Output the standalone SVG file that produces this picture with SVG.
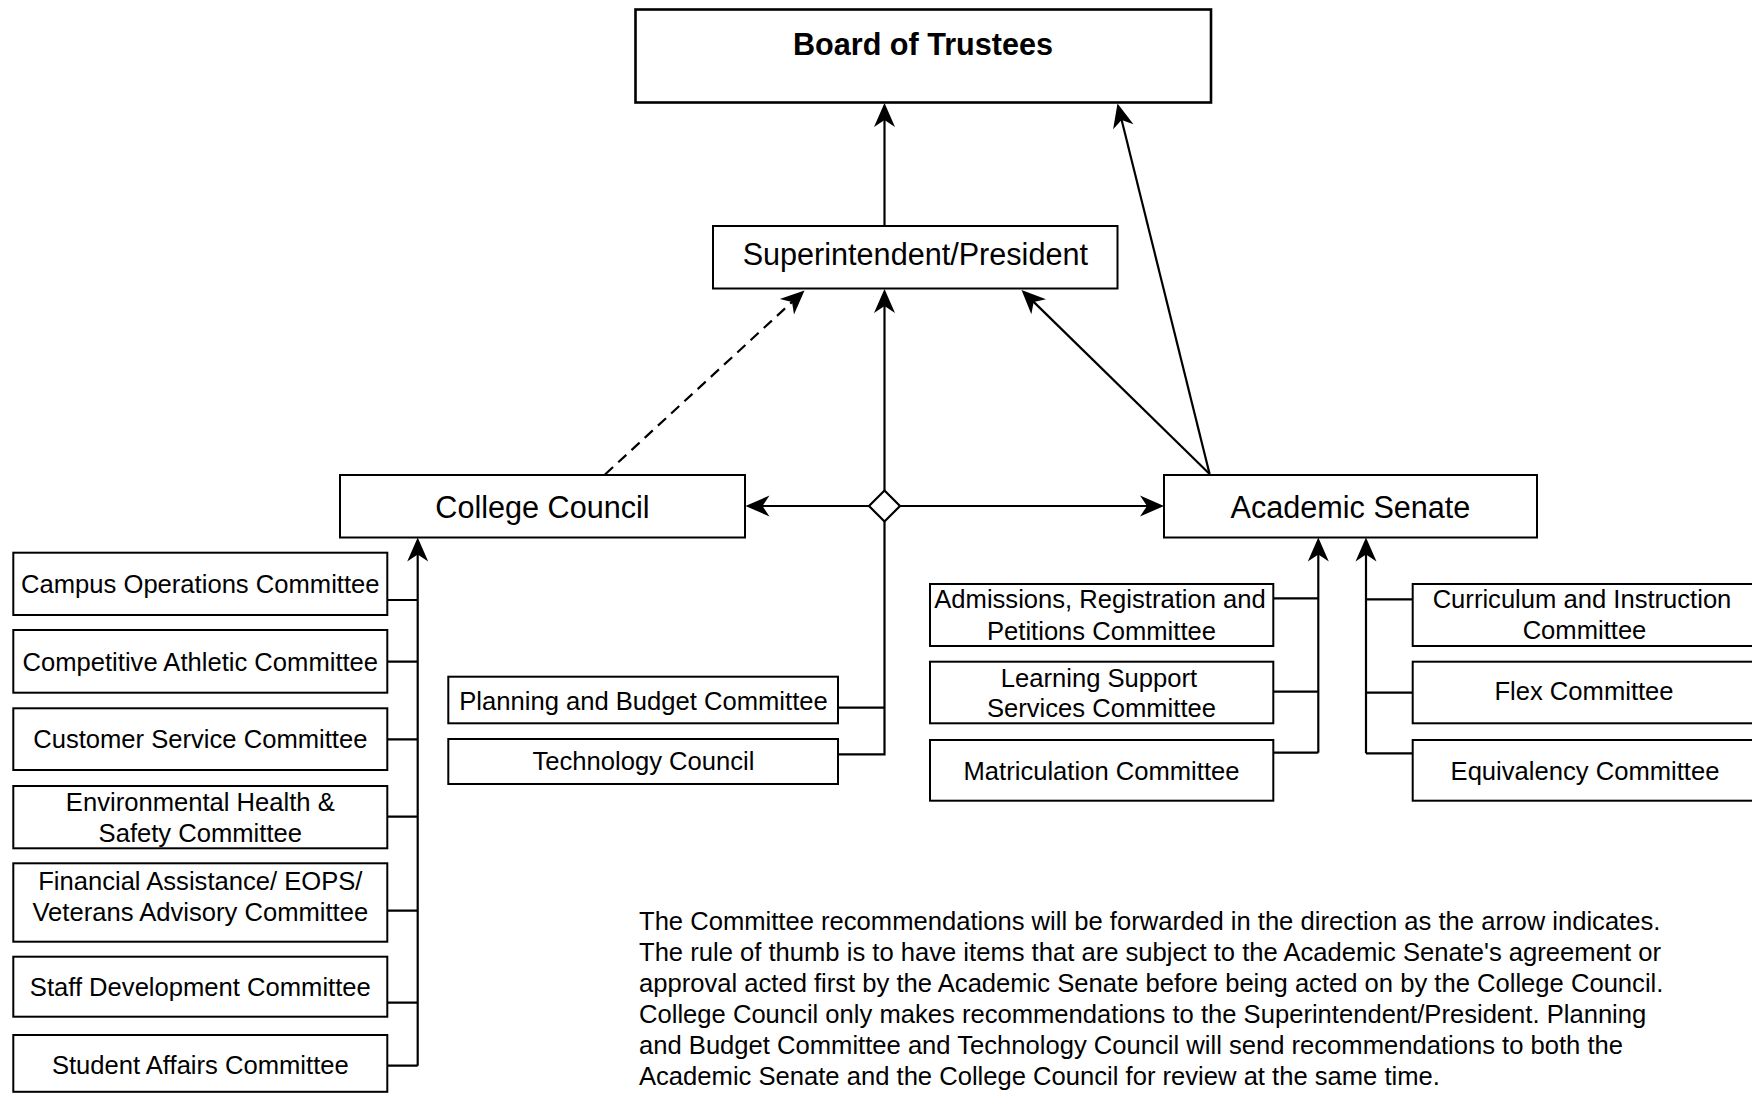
<svg xmlns="http://www.w3.org/2000/svg" width="1752" height="1094" viewBox="0 0 1752 1094">
<style>
.box{fill:#fff;stroke:#000;stroke-width:2}
.bold{fill:#fff;stroke:#000;stroke-width:2.6}
.main{font-family:"Liberation Sans",Arial,sans-serif;font-size:30.6px;fill:#000;text-anchor:middle}
.t{font-family:"Liberation Sans",Arial,sans-serif;font-size:25.6px;fill:#000;text-anchor:middle}
.note{font-family:"Liberation Sans",Arial,sans-serif;font-size:25.6px;fill:#000}
.ln{fill:none;stroke:#000;stroke-width:2.2}
</style>
<defs>
<marker id="arr" markerUnits="userSpaceOnUse" viewBox="-26 -12 28 24" markerWidth="28" markerHeight="24" refX="-12" refY="0" orient="auto">
<path d="M0,0 L-24,-10.5 L-17,0 L-24,10.5 Z" fill="#000"/>
</marker>
</defs>
<rect width="1752" height="1094" fill="#fff"/>

<g id="connectors">
<line class="ln" x1="884.5" y1="226" x2="884.5" y2="115" marker-end="url(#arr)"/>
<line class="ln" x1="884.5" y1="490.5" x2="884.5" y2="301" marker-end="url(#arr)"/>
<line class="ln" x1="869" y1="506" x2="757.5" y2="506" marker-end="url(#arr)"/>
<line class="ln" x1="900" y1="506" x2="1152" y2="506" marker-end="url(#arr)"/>
<path class="ln" d="M838,754.3 H884.5 V521.5 M838,707.7 H884.5"/>
<line class="ln" x1="605" y1="474.5" x2="795.7" y2="298.6" stroke-dasharray="11 7" marker-end="url(#arr)"/>
<line class="ln" x1="1209.6" y1="474" x2="1030.1" y2="298.4" marker-end="url(#arr)"/>
<line class="ln" x1="1209.6" y1="474" x2="1120.4" y2="115.1" marker-end="url(#arr)"/>
<path class="ln" d="M417.7,1065.7 V549.5" marker-end="url(#arr)"/>
<path class="ln" d="M387,600 H417.7 M387,661.7 H417.7 M387,739.3 H417.7 M387,816.7 H417.7 M387,910.7 H417.7 M387,1002.7 H417.7 M387,1065.7 H417.7"/>
<path class="ln" d="M1318.3,752.7 V549.5" marker-end="url(#arr)"/>
<path class="ln" d="M1273,598.3 H1318.3 M1273,691.7 H1318.3 M1273,752.7 H1318.3"/>
<path class="ln" d="M1366,753.3 V549.5" marker-end="url(#arr)"/>
<path class="ln" d="M1366,599.3 H1413 M1366,692.7 H1413 M1366,753.3 H1413"/>
<polygon points="884.5,490.5 900,506 884.5,521.5 869,506" fill="#fff" stroke="#000" stroke-width="2.2"/>
</g>

<g id="board">
<rect class="bold" x="635.5" y="9.5" width="575.5" height="93"/>
<text class="main" x="923" y="55" font-weight="bold" font-size="30.8">Board of Trustees</text>
</g>
<g id="superintendent">
<rect class="box" x="713" y="226" width="404.5" height="62.5"/>
<text class="main" x="915.3" y="265">Superintendent/President</text>
</g>
<g id="college-council">
<rect class="box" x="340" y="475" width="405" height="62.5"/>
<text class="main" x="542.5" y="518.3">College Council</text>
</g>
<g id="academic-senate">
<rect class="box" x="1164" y="475" width="373" height="62.5"/>
<text class="main" x="1350.5" y="518.3">Academic Senate</text>
</g>

<g id="campus-operations">
<rect class="box" x="13.3" y="552.7" width="374" height="62.3"/>
<text class="t" x="200.3" y="593.3">Campus Operations Committee</text>
</g>
<g id="competitive-athletic">
<rect class="box" x="13.3" y="630" width="374" height="62.7"/>
<text class="t" x="200.3" y="670.5">Competitive Athletic Committee</text>
</g>
<g id="customer-service">
<rect class="box" x="13.3" y="708.3" width="374" height="61.7"/>
<text class="t" x="200.3" y="748.3">Customer Service Committee</text>
</g>
<g id="environmental-health">
<rect class="box" x="13.3" y="786" width="374" height="62.3"/>
<text class="t" x="200.3" y="810.5">Environmental Health &amp;</text>
<text class="t" x="200.3" y="841.5">Safety Committee</text>
</g>
<g id="financial-assistance">
<rect class="box" x="13.3" y="863.3" width="374" height="78.4"/>
<text class="t" x="200.3" y="890">Financial Assistance/ EOPS/</text>
<text class="t" x="200.3" y="920.7">Veterans Advisory Committee</text>
</g>
<g id="staff-development">
<rect class="box" x="13.3" y="956.7" width="374" height="60"/>
<text class="t" x="200.3" y="995.5">Staff Development Committee</text>
</g>
<g id="student-affairs">
<rect class="box" x="13.3" y="1035" width="374" height="56.8"/>
<text class="t" x="200.3" y="1074">Student Affairs Committee</text>
</g>

<g id="planning-budget">
<rect class="box" x="448.3" y="676.7" width="389.7" height="46.6"/>
<text class="t" x="643.5" y="710">Planning and Budget Committee</text>
</g>
<g id="technology-council">
<rect class="box" x="448.3" y="739" width="389.7" height="45"/>
<text class="t" x="643.5" y="770">Technology Council</text>
</g>

<g id="admissions">
<rect class="box" x="930" y="584" width="343.3" height="62"/>
<text class="t" x="1100" y="608.3">Admissions, Registration and</text>
<text class="t" x="1101.5" y="639.5">Petitions Committee</text>
</g>
<g id="learning-support">
<rect class="box" x="930" y="661.7" width="343.3" height="61.6"/>
<text class="t" x="1099" y="686.7">Learning Support</text>
<text class="t" x="1101.5" y="716.7">Services Committee</text>
</g>
<g id="matriculation">
<rect class="box" x="930" y="740" width="343.3" height="60.7"/>
<text class="t" x="1101.5" y="780">Matriculation Committee</text>
</g>

<g id="curriculum">
<rect class="box" x="1412.7" y="584" width="344" height="62"/>
<text class="t" x="1582" y="608.3">Curriculum and Instruction</text>
<text class="t" x="1584.5" y="639.3">Committee</text>
</g>
<g id="flex">
<rect class="box" x="1412.7" y="661.7" width="344" height="61.6"/>
<text class="t" x="1584" y="700">Flex Committee</text>
</g>
<g id="equivalency">
<rect class="box" x="1412.7" y="740" width="344" height="60.7"/>
<text class="t" x="1585" y="780">Equivalency Committee</text>
</g>

<g id="note">
<text class="note" x="639" y="930">The Committee recommendations will be forwarded in the direction as the arrow indicates.</text>
<text class="note" x="639" y="961">The rule of thumb is to have items that are subject to the Academic Senate's agreement or</text>
<text class="note" x="639" y="992">approval acted first by the Academic Senate before being acted on by the College Council.</text>
<text class="note" x="639" y="1023">College Council only makes recommendations to the Superintendent/President. Planning</text>
<text class="note" x="639" y="1054">and Budget Committee and Technology Council will send recommendations to both the</text>
<text class="note" x="639" y="1085">Academic Senate and the College Council for review at the same time.</text>
</g>
</svg>
